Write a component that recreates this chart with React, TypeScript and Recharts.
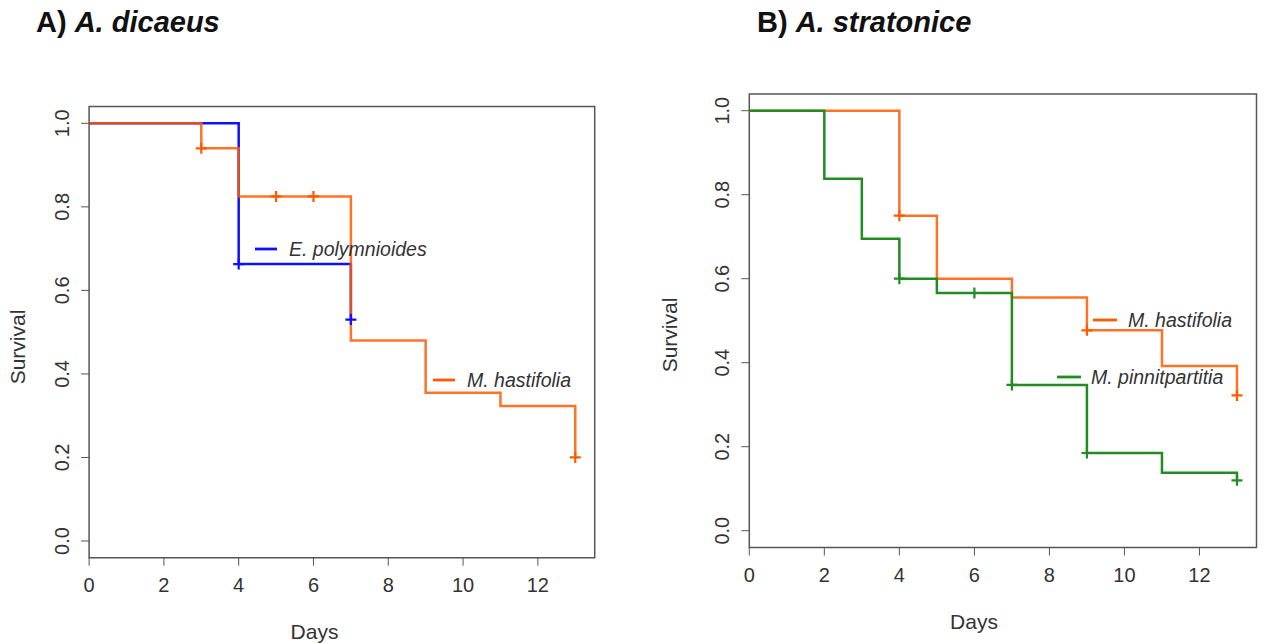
import React from 'react';
import {
  ComposedChart,
  Line,
  Scatter,
  XAxis,
  YAxis,
  ReferenceArea
} from 'recharts';

// A) A. dicaeus
const polyDays = [0, 4, 7];
const polySurv = [1, 0.663, 0.53];
const polyCensorDays = [4, 7];
const polyCensorSurv = [0.663, 0.53];

const hastADays = [0, 3, 4, 7, 9, 11, 13];
const hastASurv = [1, 0.94, 0.825, 0.48, 0.355, 0.323, 0.2];
const hastACensorDays = [3, 5, 6, 13];
const hastACensorSurv = [0.94, 0.825, 0.825, 0.2];

// B) A. stratonice
const hastBDays = [0, 4, 5, 7, 9, 11, 13];
const hastBSurv = [1, 0.75, 0.6, 0.555, 0.477, 0.392, 0.322];
const hastBCensorDays = [4, 9, 13];
const hastBCensorSurv = [0.75, 0.477, 0.322];

const pinnDays = [0, 2, 3, 4, 5, 7, 9, 11, 13];
const pinnSurv = [1, 0.838, 0.695, 0.6, 0.566, 0.347, 0.185, 0.138, 0.12];
const pinnCensorDays = [4, 6, 7, 9, 13];
const pinnCensorSurv = [0.6, 0.566, 0.347, 0.185, 0.12];

const dayTicks = [0, 2, 4, 6, 8, 10, 12];
const survTicks = [0, 0.2, 0.4, 0.6, 0.8, 1];

const BLUE = '#1010ff';
const ORANGE = '#ff5a00';
const GREEN = '#228b22';
const AXIS = '#555';
const FONT = '"Liberation Sans", Arial, Helvetica, sans-serif';

const toPoints = (days: number[], surv: number[]) =>
  days.map((d, i) => ({ day: d, surv: surv[i] }));

// "+" marks for censored observations
const cross = (color: string) => (props: any) => {
  const { cx, cy } = props;
  return (
    <path
      d={`M${cx - 5.5},${cy}H${cx + 5.5}M${cx},${cy - 5.5}V${cy + 5.5}`}
      stroke={color}
      strokeWidth={2.2}
      fill="none"
    />
  );
};

const XTick = (props: any) => {
  const { x, y, payload } = props;
  return (
    <text x={x} y={y} dy={26} textAnchor="middle" fontSize={20} fill="#333" fontFamily={FONT}>
      {payload.value}
    </text>
  );
};

const YTick = (props: any) => {
  const { x, y, payload } = props;
  const bx = x - 12;
  return (
    <text
      x={bx}
      y={y}
      transform={`rotate(-90 ${bx} ${y})`}
      textAnchor="middle"
      fontSize={20}
      fill="#333"
      fontFamily={FONT}
    >
      {Number(payload.value).toFixed(1)}
    </text>
  );
};

type Curve = { days: number[]; surv: number[]; cDays: number[]; cSurv: number[]; color: string; opacity?: number };

function KMPanel(props: {
  width: number;
  height: number;
  margin: { top: number; right: number; bottom: number; left: number };
  yWidth: number;
  xHeight: number;
  curves: Curve[];
}) {
  const { width, height, margin, yWidth, xHeight, curves } = props;
  return (
    <ComposedChart width={width} height={height} margin={margin}>
      <XAxis
        dataKey="day"
        type="number"
        domain={[0, 13.52]}
        ticks={dayTicks}
        allowDataOverflow
        height={xHeight}
        axisLine={false}
        tickLine={{ stroke: AXIS }}
        tickSize={8}
        tickMargin={0}
        tick={<XTick />}
      />
      <YAxis
        dataKey="surv"
        type="number"
        domain={[-0.04, 1.04]}
        ticks={survTicks}
        allowDataOverflow
        width={yWidth}
        axisLine={false}
        tickLine={{ stroke: AXIS }}
        tickSize={8}
        tickMargin={0}
        tick={<YTick />}
      />
      <ReferenceArea
        x1={0}
        x2={13.52}
        y1={-0.04}
        y2={1.04}
        fill="none"
        fillOpacity={0}
        stroke={AXIS}
        strokeWidth={1.5}
      />
      {curves.map((c, i) => (
        <Line
          key={'l' + i}
          data={toPoints(c.days, c.surv)}
          dataKey="surv"
          type="stepAfter"
          stroke={c.color}
          strokeOpacity={c.opacity ?? 1}
          strokeWidth={2.5}
          dot={false}
          isAnimationActive={false}
        />
      ))}
      {curves.map((c, i) => (
        <Scatter
          key={'s' + i}
          data={toPoints(c.cDays, c.cSurv)}
          dataKey="surv"
          shape={cross(c.color)}
          isAnimationActive={false}
        />
      ))}
    </ComposedChart>
  );
}

const LegendItem = (p: { x: number; y: number; w: number; tx: number; color: string; label: string }) => (
  <g>
    <line x1={p.x} x2={p.x + p.w} y1={p.y} y2={p.y} stroke={p.color} strokeWidth={2.8} />
    <text x={p.tx} y={p.y + 7} fontSize={19.5} fontStyle="italic" fill="#333" fontFamily={FONT}>
      {p.label}
    </text>
  </g>
);

export default function App() {
  return (
    <div style={{ position: 'absolute', left: 0, top: 0, width: 1264, height: 644, background: '#fff' }}>
      <div style={{ position: 'absolute', left: 0, top: 0 }}>
        <KMPanel
          width={620}
          height={644}
          margin={{ top: 106.6, right: 25.3, bottom: 0, left: 0 }}
          yWidth={89.1}
          xHeight={86.3}
          curves={[
            { days: polyDays, surv: polySurv, cDays: polyCensorDays, cSurv: polyCensorSurv, color: BLUE },
            { days: hastADays, surv: hastASurv, cDays: hastACensorDays, cSurv: hastACensorSurv, color: ORANGE, opacity: 0.85 }
          ]}
        />
      </div>
      <div style={{ position: 'absolute', left: 640, top: 0 }}>
        <KMPanel
          width={624}
          height={644}
          margin={{ top: 93.9, right: 7.5, bottom: 0, left: 0 }}
          yWidth={109.3}
          xHeight={96.5}
          curves={[
            { days: hastBDays, surv: hastBSurv, cDays: hastBCensorDays, cSurv: hastBCensorSurv, color: ORANGE, opacity: 0.85 },
            { days: pinnDays, surv: pinnSurv, cDays: pinnCensorDays, cSurv: pinnCensorSurv, color: GREEN }
          ]}
        />
      </div>
      <svg
        width={1264}
        height={644}
        style={{ position: 'absolute', left: 0, top: 0, pointerEvents: 'none' }}
        fontFamily={FONT}
      >
        <text x={36} y={32} fontSize={29} fontWeight="bold" fill="#111">
          A) <tspan fontStyle="italic">A. dicaeus</tspan>
        </text>
        <text x={757} y={32} fontSize={29} fontWeight="bold" fill="#111">
          B) <tspan fontStyle="italic">A. stratonice</tspan>
        </text>

        <text x={314.5} y={639} fontSize={21} textAnchor="middle" fill="#333">Days</text>
        <text x={974} y={629} fontSize={21} textAnchor="middle" fill="#333">Days</text>
        <text x={25} y={347} fontSize={21} textAnchor="middle" fill="#333" transform="rotate(-90 25 347)">
          Survival
        </text>
        <text x={677} y={335} fontSize={21} textAnchor="middle" fill="#333" transform="rotate(-90 677 335)">
          Survival
        </text>

        <LegendItem x={255} y={249} w={22} tx={289} color={BLUE} label="E. polymnioides" />
        <LegendItem x={433} y={380} w={22} tx={467} color={ORANGE} label="M. hastifolia" />
        <LegendItem x={1093} y={320} w={24} tx={1128} color={ORANGE} label="M. hastifolia" />
        <LegendItem x={1057} y={377} w={24} tx={1091} color={GREEN} label="M. pinnitpartitia" />
      </svg>
    </div>
  );
}
